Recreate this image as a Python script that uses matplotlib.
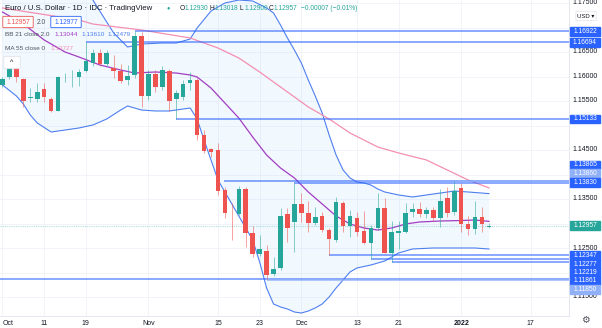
import matplotlib
matplotlib.use('Agg')
import matplotlib.pyplot as plt
from matplotlib.patches import Rectangle, FancyBboxPatch
import numpy as np

plt.rcParams['font.family'] = ['Liberation Sans', 'DejaVu Sans']

# daily EUR/USD candles, bar 0 = 1 Oct 2021
opens = [1.15827, 1.15984, 1.16180, 1.15943, 1.15562, 1.15541, 1.15745, 1.15541, 1.15302, 1.15980,
         1.15980, 1.15984, 1.16118, 1.16269, 1.16486, 1.16249, 1.16173, 1.16112, 1.15920, 1.16037,
         1.16831, 1.15592, 1.16057, 1.15786, 1.16112, 1.15531, 1.15582, 1.15867, 1.15929, 1.14806,
         1.14520, 1.14500, 1.13684, 1.13215, 1.13188, 1.13704, 1.12806, 1.12371, 1.12445, 1.11963,
         1.12098, 1.13194, 1.13037, 1.13392, 1.13208, 1.13016, 1.13153, 1.12867, 1.12663, 1.13424,
         1.12949, 1.13118, 1.12847, 1.12596, 1.12914, 1.13310, 1.12392, 1.12812, 1.12833, 1.13241,
         1.13290, 1.13194, 1.13276, 1.13106, 1.13514, 1.13241, 1.13718, 1.12990, 1.12882, 1.13139,
         1.12930]
highs = [1.15990, 1.16276, 1.16214, 1.15969, 1.15765, 1.15867, 1.15867, 1.15582, 1.16010, 1.16071,
         1.16133, 1.16153, 1.16694, 1.16570, 1.16570, 1.16540, 1.16440, 1.16255, 1.16235, 1.16922,
         1.16908, 1.16133, 1.16133, 1.16214, 1.16159, 1.15724, 1.15929, 1.16092, 1.15969, 1.14908,
         1.14540, 1.14643, 1.13751, 1.13418, 1.13765, 1.13745, 1.12950, 1.12760, 1.12561, 1.12322,
         1.13316, 1.13316, 1.13830, 1.13622, 1.13465, 1.13343, 1.13241, 1.12908, 1.13547, 1.13465,
         1.13276, 1.13241, 1.13255, 1.12969, 1.13616, 1.13520, 1.13051, 1.13057, 1.13424, 1.13424,
         1.13445, 1.13337, 1.13337, 1.13704, 1.13738, 1.13860, 1.13827, 1.13153, 1.13465, 1.13337,
         1.13018]
lows = [1.15786, 1.15950, 1.15888, 1.15378, 1.15480, 1.15480, 1.15480, 1.15280, 1.15296, 1.15888,
        1.15786, 1.15806, 1.16092, 1.16214, 1.16210, 1.16210, 1.15970, 1.15867, 1.15827, 1.15969,
        1.15378, 1.15520, 1.15684, 1.15724, 1.15296, 1.15133, 1.15520, 1.15724, 1.14704, 1.14445,
        1.14357, 1.13582, 1.13112, 1.12663, 1.13173, 1.12527, 1.12322, 1.12330, 1.11861, 1.11929,
        1.12051, 1.12629, 1.12410, 1.13037, 1.12827, 1.12969, 1.12833, 1.12347, 1.12629, 1.12833,
        1.12730, 1.12740, 1.12580, 1.12277, 1.12867, 1.12392, 1.12219, 1.12475, 1.12812, 1.13139,
        1.13139, 1.13106, 1.13061, 1.12922, 1.13139, 1.13173, 1.12833, 1.12765, 1.12792, 1.12833,
        1.12900]
closes = [1.15943, 1.16180, 1.15984, 1.15506, 1.15582, 1.15684, 1.15582, 1.15302, 1.15990, 1.15995,
          1.15992, 1.16098, 1.16322, 1.16486, 1.16249, 1.16486, 1.16112, 1.15908, 1.16002, 1.16831,
          1.15602, 1.16057, 1.15786, 1.16139, 1.15510, 1.15667, 1.15851, 1.15920, 1.14806, 1.14486,
          1.14465, 1.13669, 1.13214, 1.13205, 1.13704, 1.12800, 1.12371, 1.12473, 1.11949, 1.12071,
          1.13159, 1.12902, 1.13392, 1.13208, 1.13016, 1.13139, 1.12867, 1.12678, 1.13445, 1.12949,
          1.13153, 1.12833, 1.12596, 1.12914, 1.13310, 1.12404, 1.12833, 1.12847, 1.13221, 1.13296,
          1.13194, 1.13276, 1.13106, 1.13465, 1.13221, 1.13669, 1.12990, 1.12882, 1.13139, 1.12990,
          1.12957]

# Bollinger bands (21, 2) and 55-day MA, sampled at bar indices
bb_up_idx = [0, 6, 10, 13, 15, 16, 18, 20, 23, 25, 27, 28, 30, 32, 34, 36, 38, 39, 40, 41, 42, 43, 44,
             45, 46, 47, 48, 49, 50, 51, 52, 53, 54, 55, 57, 59, 61, 63, 65, 67, 70]
bb_up = [1.18786, 1.18480, 1.18071, 1.17561, 1.17112, 1.16888, 1.16602, 1.16663, 1.16684, 1.16684,
         1.16765, 1.16990, 1.17337, 1.17500, 1.17561, 1.17541, 1.17398, 1.17296, 1.17051, 1.16786,
         1.16541, 1.16276, 1.15929, 1.15602, 1.15255, 1.14806, 1.14398, 1.14092, 1.13929, 1.13847,
         1.13827, 1.13786, 1.13704, 1.13643, 1.13582, 1.13541, 1.13582, 1.13622, 1.13663, 1.13643,
         1.13610]
bb_lo_idx = [0, 2, 3, 4, 5, 7, 9, 11, 13, 15, 17, 18, 20, 22, 24, 26, 27, 28, 29, 30, 31, 32, 33, 34,
             35, 36, 37, 38, 39, 40, 41, 42, 43, 44, 45, 46, 47, 48, 49, 50, 51, 53, 55, 57, 59, 62,
             65, 68, 70]
bb_lo = [1.15827, 1.15602, 1.15439, 1.15214, 1.15051, 1.14867, 1.14908, 1.14949, 1.15010, 1.15133,
         1.15316, 1.15398, 1.15316, 1.15296, 1.15296, 1.15337, 1.15357, 1.15133, 1.14704, 1.14296,
         1.13888, 1.13643, 1.13398, 1.13153, 1.12908, 1.12663, 1.12214, 1.11684, 1.11357, 1.11296,
         1.11255, 1.11194, 1.11173, 1.11214, 1.11276, 1.11357, 1.11500, 1.11684, 1.11847, 1.12010,
         1.12092, 1.12153, 1.12235, 1.12398, 1.12480, 1.12500, 1.12500, 1.12500, 1.12479]
bb_mid_idx = [0, 3, 6, 9, 11, 14, 17, 19, 22, 25, 27, 28, 30, 32, 34, 36, 38, 40, 42, 44, 46, 48, 50,
              52, 54, 56, 58, 60, 63, 66, 68, 70]
bb_mid = [1.17316, 1.17071, 1.16745, 1.16500, 1.16398, 1.16235, 1.16133, 1.16071, 1.16092, 1.16071,
          1.16031, 1.15990, 1.15765, 1.15459, 1.15153, 1.14765, 1.14398, 1.14133, 1.13929, 1.13643,
          1.13398, 1.13153, 1.12990, 1.12908, 1.12867, 1.12908, 1.12990, 1.13031, 1.13051, 1.13061,
          1.13071, 1.13044]
ma_idx = [0, 11, 13, 20, 27, 31, 34, 37, 41, 44, 47, 50, 54, 57, 61, 64, 67, 70]
ma55 = [1.17398, 1.17153, 1.17071, 1.16949, 1.16786, 1.16582, 1.16378, 1.16092, 1.15684, 1.15378,
        1.15133, 1.14847, 1.14561, 1.14439, 1.14296, 1.14092, 1.13888, 1.13727]

# horizontal rays: level, starting bar, light style
ray_levels = [1.16922, 1.16694, 1.15133, 1.13865, 1.13860, 1.13830, 1.12347, 1.12277, 1.12219, 1.11861, 1.11850]
ray_starts = [19, 12, 25, 31.8, 65, 42, 47, 53, 56, -1, 38]
ray_light = [False, False, False, False, True, False, False, False, False, False, True]

tick_idx = [0, 6, 12, 21, 31, 37, 43, 51, 57, 66, 76]
tick_lbl = ['Oct', '11', '19', 'Nov', '15', '23', 'Dec', '13', '21', '2022', '17']
# price scale labels left uncovered by the level tags
price_ticks = [1.115, 1.125, 1.135, 1.145, 1.155, 1.160, 1.165, 1.175]

last_price = 1.12957

W, H = 602, 328
UP, DOWN = '#26a69a', '#ef5350'
RAY, RAY_LIGHT = '#2962ff', '#90b0f8'
TXT = '#131722'
GREY = '#50535e'

fig = plt.figure(figsize=(W / 100, H / 100), dpi=100)
ax = fig.add_axes([0, 12 / H, 569 / W, 316 / H])
ax.set_xlim(-2.5 / 6.95, 566.5 / 6.95)
ax.set_ylim(1.165 - 264 / 4900, 1.165 + 52 / 4900)

ax.set_xticks(tick_idx, tick_lbl)
ax.set_yticks(np.arange(1.115, 1.1751, 0.005))
ax.set_yticklabels([])
ax.yaxis.tick_right()
ax.tick_params(axis='x', length=0, pad=3, labelsize=5, labelcolor=TXT)
ax.tick_params(axis='y', length=0)
xl = ax.get_xticklabels()
xl[9].set_fontweight('bold')
xl[0].set_horizontalalignment('left')
ax.grid(color='#f0f3fa', lw=0.6)
ax.set_axisbelow(True)
for side in ['top', 'left']:
    ax.spines[side].set_visible(False)
for side in ['right', 'bottom']:
    ax.spines[side].set_color('#e0e3eb')
    ax.spines[side].set_linewidth(0.6)

for p in price_ticks:
    ax.text(1.0 + 3.5 / 569, p, f'{p:.5f}', transform=ax.get_yaxis_transform(), ha='left',
            va='center', fontsize=5, color=TXT, clip_on=False)

# bollinger fill and lines
grid_x = np.arange(0, 70.01, 0.25)
up_line = np.interp(grid_x, bb_up_idx, bb_up)
lo_line = np.interp(grid_x, bb_lo_idx, bb_lo)
ax.fill_between(grid_x, lo_line, up_line, color='#2196f3', alpha=0.06, lw=0, zorder=1)
ax.plot(bb_up_idx, bb_up, color='#4e7ff0', lw=0.8, zorder=2)
ax.plot(bb_lo_idx, bb_lo, color='#4e7ff0', lw=0.8, zorder=2)
ax.plot(bb_mid_idx, bb_mid, color='#a33ec4', lw=0.9, zorder=2)
ax.plot(ma_idx, ma55, color='#f48fb1', lw=0.9, zorder=2)

# rays
xmax = ax.get_xlim()[1]
for lvl, start, light in zip(ray_levels, ray_starts, ray_light):
    ax.hlines(lvl, start, xmax, color=RAY_LIGHT if light else RAY, lw=1.4,
              alpha=0.7 if light else 0.55, zorder=3)

ax.axhline(last_price, color=UP, lw=0.8, ls=(0, (1, 1)), alpha=0.35, zorder=2)

# candles
idx = np.arange(len(opens))
o, h, l, c = map(np.array, (opens, highs, lows, closes))
cols = np.where(c >= o, UP, DOWN)
ax.vlines(idx, l, h, colors=cols, lw=0.7, alpha=0.55, zorder=4)
body = np.where(np.abs(c - o) < 0.00004, 0.00004, c - o)
ax.bar(idx, body, bottom=o, width=0.65, color=cols, lw=0, zorder=5)


def tag(y_px, text, face, fg='white'):
    fig.add_artist(Rectangle((570 / W, 1 - (y_px + 4.2) / H), 30 / W, 8.4 / H,
                             transform=fig.transFigure, color=face, zorder=10))
    fig.text(585 / W, 1 - y_px / H, text, ha='center', va='center', fontsize=4.8,
             color=fg, zorder=11)


def px_y(price):
    return 52 + (1.165 - price) * 4900


tag(px_y(1.16922), '1.16922', RAY)
tag(px_y(1.16694), '1.16694', RAY)
tag(px_y(1.15133), '1.15133', RAY)
tag(165, '1.13865', RAY)
tag(173.5, '1.13860', RAY_LIGHT)
tag(182.5, '1.13830', RAY)
tag(px_y(last_price), f'{last_price:.5f}', UP)
tag(255.7, '1.12347', RAY)
tag(264, '1.12277', RAY)
tag(272.3, '1.12219', RAY)
tag(280.7, '1.11861', RAY)
tag(289.3, '1.11850', RAY_LIGHT)

# currency selector and settings gear
fig.add_artist(FancyBboxPatch((577 / W, 1 - 20 / H), 18 / W, 8 / H, boxstyle='round,pad=0.002',
                              transform=fig.transFigure, fc='white', ec='#e0e3eb', lw=0.5, zorder=10))
fig.text(586 / W, 1 - 16 / H, 'USD ▾', ha='center', va='center', fontsize=4.3, color=TXT, zorder=11)
fig.text(585 / W, 1 - 320 / H, '⚙', ha='center', va='center', fontsize=7, color=GREY,
         family='DejaVu Sans')

# legend block
fig.text(5 / W, 1 - 8 / H, 'Euro / U.S. Dollar · 1D · IDC · TradingView', fontsize=5.6,
         color=TXT, va='center')
fig.text(168 / W, 1 - 8 / H, '●', fontsize=4, color=UP, va='center', ha='center')
ohlc = [('O', '1.12930', 180), ('H', '1.13018', 210), ('L', '1.12900', 240), ('C', '1.12957', 269)]
for letter, val, x in ohlc:
    fig.text(x / W, 1 - 8 / H, letter, fontsize=4.8, color=TXT, va='center')
    fig.text((x + 4.2) / W, 1 - 8 / H, val, fontsize=4.8, color=UP, va='center')
fig.text(301 / W, 1 - 8 / H, '−0.00007 (−0.01%)', fontsize=4.8, color=UP, va='center')

fig.add_artist(FancyBboxPatch((4 / W, 1 - 27 / H), 28 / W, 10 / H, boxstyle='round,pad=0.002',
                              transform=fig.transFigure, fc='white', ec=DOWN, lw=0.6, zorder=10))
fig.text(18 / W, 1 - 22 / H, '1.12957', fontsize=4.8, color=DOWN, ha='center', va='center', zorder=11)
fig.text(41 / W, 1 - 22 / H, '2.0', fontsize=4.8, color=GREY, ha='center', va='center')
fig.add_artist(FancyBboxPatch((52 / W, 1 - 27 / H), 28 / W, 10 / H, boxstyle='round,pad=0.002',
                              transform=fig.transFigure, fc='white', ec=RAY, lw=0.6, zorder=10))
fig.text(66 / W, 1 - 22 / H, '1.12977', fontsize=4.8, color=RAY, ha='center', va='center', zorder=11)

fig.text(5 / W, 1 - 35 / H, 'BB 21 close 2.0', fontsize=4.6, color=GREY, va='center')
fig.text(54 / W, 1 - 35 / H, '1.13044', fontsize=4.6, color='#a33ec4', va='center')
fig.text(81 / W, 1 - 35 / H, '1.13610', fontsize=4.6, color='#4e7ff0', va='center')
fig.text(107 / W, 1 - 35 / H, '1.12479', fontsize=4.6, color='#4e7ff0', va='center')
fig.text(5 / W, 1 - 48 / H, 'MA 55 close 0', fontsize=4.6, color=GREY, va='center')
fig.text(50 / W, 1 - 48 / H, '1.13727', fontsize=4.6, color='#f48fb1', va='center')

fig.add_artist(FancyBboxPatch((5 / W, 1 - 68 / H), 14 / W, 11 / H, boxstyle='round,pad=0.002',
                              transform=fig.transFigure, fc='white', ec='#e0e3eb', lw=0.6, zorder=10))
fig.text(12 / W, 1 - 62 / H, '^', fontsize=5, color=TXT, ha='center', va='center', zorder=11)

fig.savefig('out.png', dpi=100, facecolor='white')
